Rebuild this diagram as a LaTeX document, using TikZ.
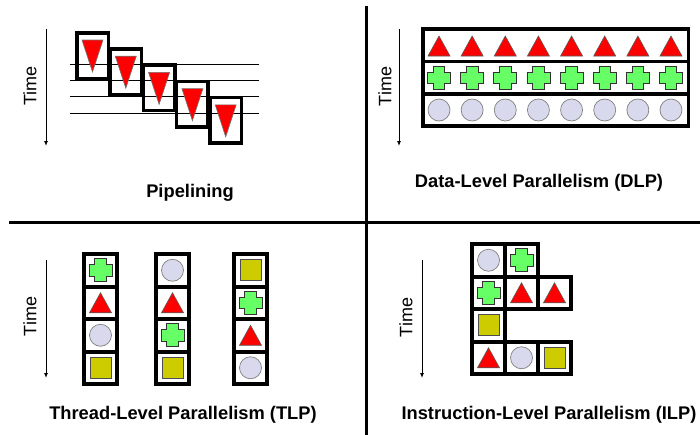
\documentclass[tikz,border=0pt]{standalone}
\usepackage{fontspec}
\setmainfont{Liberation Sans}
\usetikzlibrary{arrows.meta}

\definecolor{symred}{HTML}{FF0000}
\definecolor{symgreen}{HTML}{66FF66}
\definecolor{symlav}{HTML}{D9D9EE}
\definecolor{symolive}{HTML}{CCCC00}

\tikzset{
  divider/.style={line width=3pt, line cap=rect},
  timearrow/.style={line width=0.9pt, -{Latex[length=5pt,width=4pt]}},
  timetext/.style={rotate=90, font=\fontsize{18}{20}\selectfont, inner sep=0pt},
  caption/.style={font=\fontsize{18.3}{20}\selectfont\bfseries, inner sep=0pt},
  stagebox/.style={draw=black, line width=3.5pt},
  beat/.style={line width=0.8pt},
  tri/.pic={\filldraw[fill=symred, draw=black!65, line width=0.6pt]
      (-11,10) -- (11,10) -- (0,-10) -- cycle;},
  dtri/.pic={\filldraw[fill=symred, draw=black!55, line width=0.6pt]
      (-10.5,-16) -- (10.5,-16) -- (0,16) -- cycle;},
  crs/.pic={\filldraw[fill=symgreen, draw=black!80, line width=0.7pt]
      (-5.75,-11.5) -- (5.75,-11.5) -- (5.75,-5.75) -- (11.5,-5.75) --
      (11.5,5.75) -- (5.75,5.75) -- (5.75,11.5) -- (-5.75,11.5) --
      (-5.75,5.75) -- (-11.5,5.75) -- (-11.5,-5.75) -- (-5.75,-5.75) -- cycle;},
  circ/.pic={\filldraw[fill=symlav, draw=black!50, line width=0.7pt] (0,0) circle (11);},
  sqr/.pic={\filldraw[fill=symolive, draw=black!70, line width=0.7pt]
      (-10.5,-10.5) rectangle (10.5,10.5);},
}

% cell frame: black border pass, then white interior pass
\newcommand\cellblack[2]{\fill[black] (#1-2,#2-2) rectangle (#1+35,#2+34.5);}
\newcommand\cellwhite[2]{\fill[white] (#1+2,#2+2) rectangle (#1+31,#2+30.5);}

\begin{document}
\begin{tikzpicture}[x=1pt,y=-1pt]
\useasboundingbox (0,0) rectangle (700,434);

% ---------- quadrant dividers ----------
\coordinate (vtop) at (366,7);
\coordinate (vbot) at (366,434);
\coordinate (hleft) at (10,222);
\coordinate (hright) at (700,222);
\draw[divider] (vtop) -- (vbot);
\draw[divider] (hleft) -- (hright);

% ---------- Pipelining ----------
\coordinate (pa1) at (46,29);
\coordinate (pa2) at (46,146);
\draw[timearrow] (pa1) -- (pa2);
\node[timetext] (ptime) at (30,86) {Time};
\foreach \k in {0,...,4}{
  \draw[stagebox] (76.75+33.3*\k,32.75+16.2*\k) rectangle (108.25+33.3*\k,78.25+16.2*\k);
}
\foreach \yy in {64,80.3,96.6,113}{
  \draw[beat] (70,\yy) -- (259,\yy);
}
\foreach \k in {0,...,4}{
  \pic at (92.5+33.3*\k,56+16.2*\k) {dtri};
}
\node[caption] (pcap) at (190,193) {Pipelining};

% ---------- Data-Level Parallelism ----------
\coordinate (da1) at (399,29);
\coordinate (da2) at (399,146);
\draw[timearrow] (da1) -- (da2);
\node[timetext] (dtime) at (385,86.5) {Time};
\fill[black] (421,27) rectangle (690,128);
\foreach \r in {0,1,2}{
  \fill[white] (424.5,31+32.33*\r) rectangle (686.5,59.5+32.33*\r);
}
\foreach \i in {0,...,7}{
  \pic at (439+33.14*\i,46) {tri};
  \pic at (439+33.14*\i,78) {crs};
  \pic at (439+33.14*\i,110) {circ};
}
\node[caption] (dcap) at (539,183) {Data-Level Parallelism (DLP)};

% ---------- Thread-Level Parallelism ----------
\coordinate (ta1) at (46,260);
\coordinate (ta2) at (46,378);
\draw[timearrow] (ta1) -- (ta2);
\node[timetext] (ttime) at (30,316.5) {Time};
\foreach \cx in {84,156,234}{
  \foreach \r in {0,...,3}{ \cellblack{\cx}{254+32.5*\r} }
}
\foreach \cx in {84,156,234}{
  \foreach \r in {0,...,3}{ \cellwhite{\cx}{254+32.5*\r} }
}
% thread 1
\pic at (100.5,270.25) {crs};
\pic at (100.5,302.75) {tri};
\pic at (100.5,335.25) {circ};
\pic at (100.5,367.75) {sqr};
% thread 2
\pic at (172.5,270.25) {circ};
\pic at (172.5,302.75) {tri};
\pic at (172.5,335.25) {crs};
\pic at (172.5,367.75) {sqr};
% thread 3
\pic at (250.5,270.25) {sqr};
\pic at (250.5,302.75) {crs};
\pic at (250.5,335.25) {tri};
\pic at (250.5,367.75) {circ};
\node[caption] (tcap) at (183,415) {Thread-Level Parallelism (TLP)};

% ---------- Instruction-Level Parallelism ----------
\coordinate (ia1) at (422,260);
\coordinate (ia2) at (422,378);
\draw[timearrow] (ia1) -- (ia2);
\node[timetext] (itime) at (406,317.5) {Time};
\foreach \cx/\cy in {472/244, 505/244,
                     472/276.5, 505/276.5, 538/276.5,
                     472/309,
                     472/341.5, 505/341.5, 538/341.5}{
  \cellblack{\cx}{\cy}
}
\foreach \cx/\cy in {472/244, 505/244,
                     472/276.5, 505/276.5, 538/276.5,
                     472/309,
                     472/341.5, 505/341.5, 538/341.5}{
  \cellwhite{\cx}{\cy}
}
\pic at (488.5,260.25) {circ};
\pic at (521.5,260.25) {crs};
\pic at (488.5,292.75) {crs};
\pic at (521.5,292.75) {tri};
\pic at (554.5,292.75) {tri};
\pic at (488.5,325.25) {sqr};
\pic at (488.5,357.75) {tri};
\pic at (521.5,357.75) {circ};
\pic at (554.5,357.75) {sqr};
\node[caption] (icap) at (549,415) {Instruction-Level Parallelism (ILP)};
\end{tikzpicture}
\end{document}
